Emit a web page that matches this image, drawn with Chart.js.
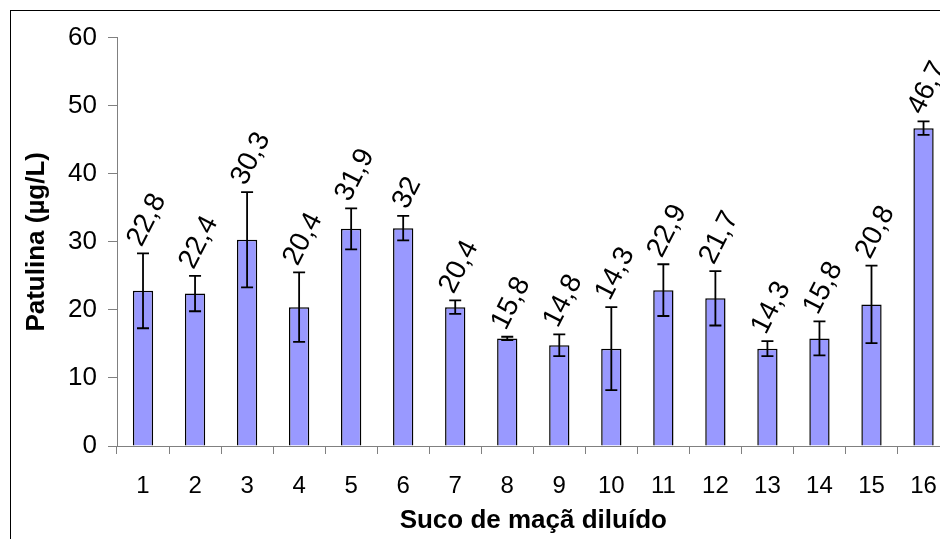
<!DOCTYPE html>
<html>
<head>
<meta charset="utf-8">
<script src="https://cdn.jsdelivr.net/npm/chart.js@4/dist/chart.umd.min.js"></script>
<style>
  html, body { margin: 0; padding: 0; background: #fff; overflow: hidden; }
  #frame {
    position: absolute; left: 10px; top: 10px;
    width: 960px; height: 540px;
    border-left: 1px solid #000; border-top: 1px solid #000;
  }
  #chart { display: block; }
</style>
</head>
<body>
<div id="frame">
  <canvas id="chart" width="944" height="528"></canvas>
</div>
<script>
const amostras = ['1', '2', '3', '4', '5', '6', '7', '8', '9', '10', '11', '12', '13', '14', '15', '16']
const patulina = [22.8, 22.4, 30.3, 20.4, 31.9, 32, 20.4, 15.8, 14.8, 14.3, 22.9, 21.7, 14.3, 15.8, 20.8, 46.7]
const desvio = [5.5, 2.6, 7.0, 5.1, 3.0, 1.8, 1.0, 0.25, 1.6, 6.1, 3.8, 4.0, 1.1, 2.5, 5.7, 1.0]
const yTicks = [0, 10, 20, 30, 40, 50, 60]

const fonte = '"Liberation Sans", Arial, sans-serif'

// barras de erro (desvio padrão)
const errorBars = {
    id: 'errorBars',
    afterDatasetsDraw(chart) {
        const ctx = chart.ctx
        const y = chart.scales.y
        const meta = chart.getDatasetMeta(0)
        ctx.save()
        ctx.strokeStyle = '#000'
        ctx.lineWidth = 1.8
        meta.data.forEach((bar, i) => {
            const top = y.getPixelForValue(patulina[i] + desvio[i])
            const bot = y.getPixelForValue(patulina[i] - desvio[i])
            ctx.beginPath()
            ctx.moveTo(bar.x, top); ctx.lineTo(bar.x, bot)
            ctx.moveTo(bar.x - 6, top); ctx.lineTo(bar.x + 6, top)
            ctx.moveTo(bar.x - 6, bot); ctx.lineTo(bar.x + 6, bot)
            ctx.stroke()
        })
        ctx.restore()
    }
}

// rótulos com os valores, girados
const valueLabels = {
    id: 'valueLabels',
    afterDatasetsDraw(chart) {
        const ctx = chart.ctx
        const y = chart.scales.y
        const meta = chart.getDatasetMeta(0)
        const ang = 63 * Math.PI / 180
        const size = 28
        ctx.save()
        ctx.fillStyle = '#000'
        ctx.font = size + 'px ' + fonte
        ctx.textAlign = 'center'
        ctx.textBaseline = 'middle'
        meta.data.forEach((bar, i) => {
            const txt = String(patulina[i]).replace('.', ',')
            const L = ctx.measureText(txt).width
            const h = size * 0.72
            const vert = L * Math.sin(ang) + h * Math.cos(ang)
            const top = y.getPixelForValue(patulina[i] + desvio[i])
            const cy = top - 5 - vert / 2
            ctx.save()
            ctx.translate(bar.x + 3, cy)
            ctx.rotate(-ang)
            ctx.fillText(txt, 0, 1)
            ctx.restore()
        })
        ctx.restore()
    }
}

new Chart(document.querySelector('#chart').getContext('2d'), {
    type: 'bar',
    data: {
        labels: amostras,
        datasets: [
            {
                data: patulina,
                backgroundColor: '#9999ff',
                borderColor: '#000',
                borderWidth: 1.5,
                barPercentage: 0.39,
                categoryPercentage: 1
            }
        ]
    },
    options: {
        responsive: false,
        animation: false,
        layout: { padding: { left: 0, right: 4, top: 22, bottom: 0 } },
        plugins: {
            legend: { display: false },
            tooltip: { enabled: false }
        },
        scales: {
            x: {
                afterFit: (s) => { s.height = 93 },
                grid: { drawOnChartArea: false, tickLength: 8, color: '#808080' },
                border: { color: '#808080' },
                ticks: { color: '#000', padding: 18, maxRotation: 0, font: { family: fonte, size: 24 } },
                title: {
                    display: true,
                    text: 'Suco de maçã diluído',
                    color: '#000',
                    padding: { top: 0, bottom: 3 },
                    font: { family: fonte, size: 26, weight: 'bold', lineHeight: 1.2 }
                }
            },
            y: {
                min: 0,
                max: 60,
                afterFit: (s) => { s.width = 106 },
                afterBuildTicks: (s) => { s.ticks = yTicks.map(v => ({ value: v })) },
                grid: { drawOnChartArea: false, tickLength: 9, color: '#808080' },
                border: { color: '#808080' },
                ticks: { color: '#000', padding: 11, font: { family: fonte, size: 26 } },
                title: {
                    display: true,
                    text: 'Patulina (µg/L)',
                    color: '#000',
                    padding: { top: 10, bottom: 0 },
                    font: { family: fonte, size: 26, weight: 'bold', lineHeight: 1.2 }
                }
            }
        }
    },
    plugins: [errorBars, valueLabels]
})
</script>
</body>
</html>
